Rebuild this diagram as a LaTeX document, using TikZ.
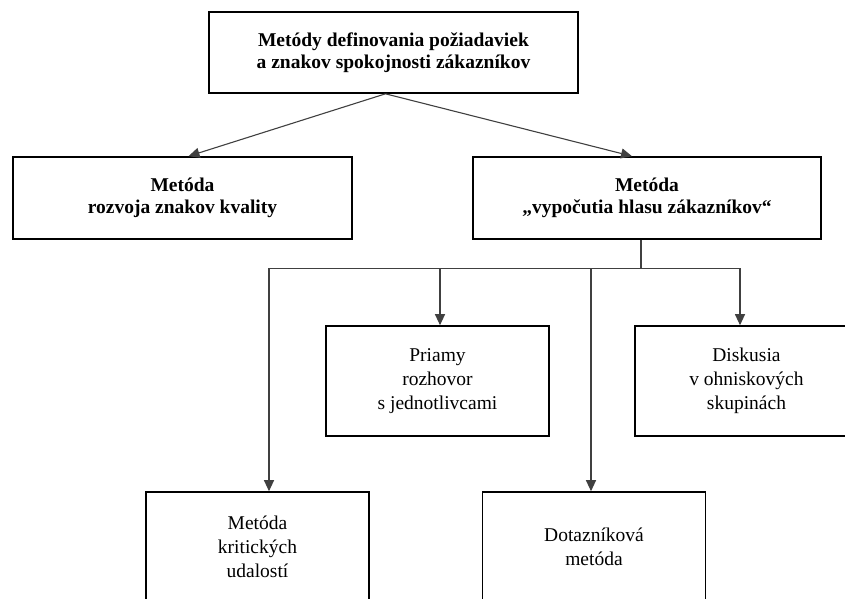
\documentclass[tikz,border=0pt]{standalone}
\usepackage{fontspec}
\setmainfont{Liberation Serif}
\usepackage{tikz}
\usetikzlibrary{arrows.meta,positioning,calc}

\begin{document}
\begin{tikzpicture}[x=1pt, y=-1pt]
  \tikzstyle{box} = [draw=black, line width=1.6pt, align=center, inner sep=0pt]
  \tikzstyle{head} = [box, font=\fontsize{19.5}{22.5}\selectfont\bfseries]
  \tikzstyle{leaf} = [box, font=\fontsize{19.5}{24}\selectfont, minimum width=223pt, minimum height=110pt]
  \tikzstyle{conn} = [draw=black!75, line width=1.1pt, -{Triangle[length=11pt, width=10pt]}]

  \useasboundingbox (0,0) rectangle (845,598);
  \clip (0,0) rectangle (845,598);

  \def\U{198};
  \def\L{381};
  \def\D{547};

  % top node
  \node[head, minimum width=369pt, minimum height=81pt] (metody) at (393.5, 52.5)
    {Metódy definovania požiadaviek\\ a znakov spokojnosti zákazníkov};

  % second row
  \node[head, minimum width=339pt, minimum height=82pt] (kvalita) at (182.5, \U)
    {Metóda\\ rozvoja znakov kvality};
  \node[head, minimum width=348pt, minimum height=82pt] (hlas) at (647, \U)
    {Metóda\\ „vypočutia hlasu zákazníkov“};

  % third row
  \node[leaf] (priamy) at (437.5, \L) {Priamy\\ rozhovor\\ s jednotlivcami};
  \node[leaf] (diskusia) at (746.5, \L) {Diskusia\\ v ohniskových\\ skupinách};

  % bottom row
  \node[leaf] (kriticke) at (257.5, \D) {Metóda\\ kritických\\ udalostí};
  \node[leaf] (dotaznik) at (594, \D) {Dotazníková\\ metóda};

  % connection lines
  \draw[conn] ([xshift=-8pt]metody.south) -- ([xshift=6pt]kvalita.north);
  \draw[conn] ([xshift=-8pt]metody.south) -- ([xshift=-15pt]hlas.north);

  \draw[draw=black!75, line width=1.1pt] ([xshift=-6pt]hlas.south) -- ++(0,29) coordinate (bus);
  \draw[conn] (bus) -| ([xshift=11.5pt]kriticke.north);
  \draw[conn] (bus) -| ([xshift=2.5pt]priamy.north);
  \draw[conn] (bus) -| ([xshift=-3pt]dotaznik.north);
  \draw[conn] (bus) -| ([xshift=-6.5pt]diskusia.north);

\end{tikzpicture}
\end{document}
